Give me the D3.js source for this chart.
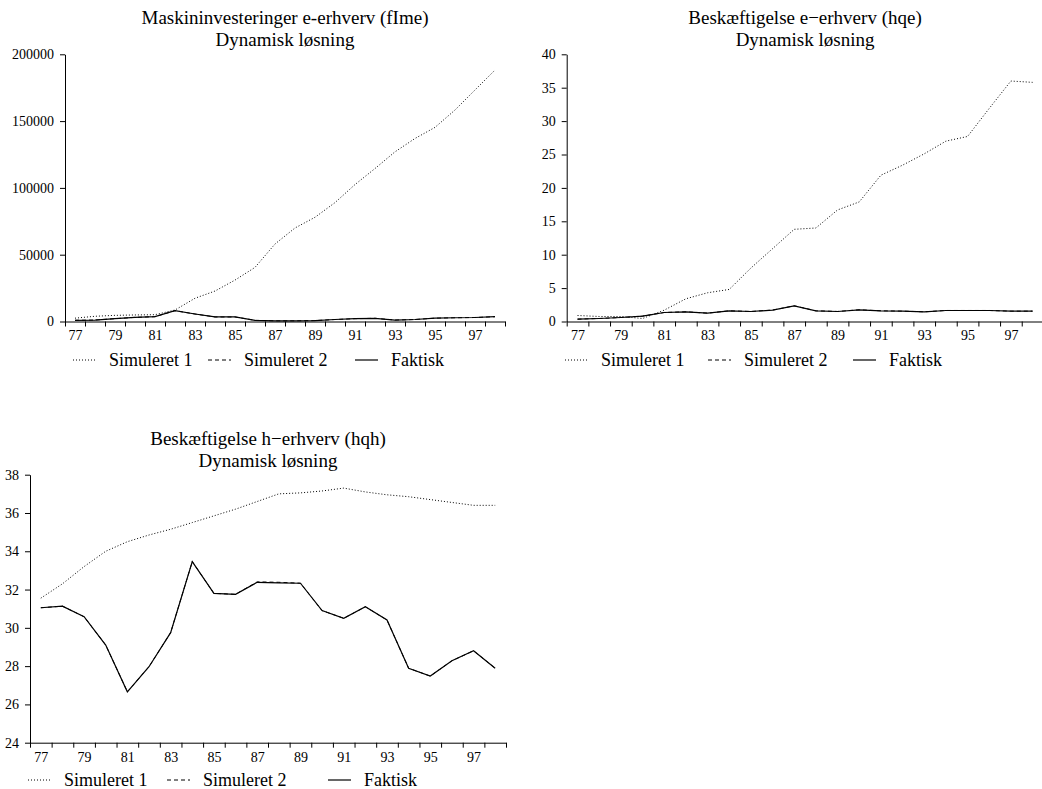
<!DOCTYPE html>
<html>
  <head>
    <meta charset="utf-8">
    <script src="https://cdn.jsdelivr.net/npm/d3@7"></script>
    <style>
      body { margin: 0; background: #fff; }
      .axis path, .axis line { stroke: #000; stroke-width: 1; }
    </style>
  </head>
  <body>
    <script>

      // years on the x axis (19xx)
      var years = d3.range(77, 99);
      var yearLabels = ["77", "79", "81", "83", "85", "87", "89", "91", "93", "95", "97"];

      // legend names
      var seriesNames = ["Simuleret 1", "Simuleret 2", "Faktisk"];

      // panel 1: Maskininvesteringer e-erhverv (fIme)
      var fimeSim1 = [2500, 3900, 4600, 4900, 5100, 8600, 17400, 22800, 31000, 40500, 58000, 70000,
                      78000, 89000, 102500, 114500, 127000, 137000, 145300, 158300, 173300, 188200];
      var fimeSim2 = [900, 1100, 2100, 3100, 3600, 8100, 5600, 3400, 3400, 900, 500, 500,
                      700, 1500, 2100, 2400, 1100, 1500, 2500, 2800, 3000, 3600];
      var fimeAct  = [900, 1100, 2100, 3100, 3600, 8100, 5600, 3400, 3400, 900, 500, 500,
                      700, 1500, 2100, 2400, 1100, 1500, 2500, 2800, 3000, 3600];
      var fimeTicks = [0, 50000, 100000, 150000, 200000];

      // panel 2: Beskæftigelse e-erhverv (hqe)
      var hqeSim1 = [0.9, 0.75, 0.75, 0.45, 1.7, 3.4, 4.3, 4.8, 8.0, 10.9, 13.8, 14.0,
                     16.7, 17.9, 21.9, 23.4, 25.1, 27.0, 27.7, 31.9, 36.0, 35.8];
      var hqeSim2 = [0.35, 0.45, 0.6, 0.8, 1.35, 1.45, 1.25, 1.6, 1.5, 1.7, 2.35, 1.6,
                     1.5, 1.75, 1.6, 1.55, 1.45, 1.65, 1.65, 1.65, 1.55, 1.55];
      var hqeAct  = [0.35, 0.45, 0.6, 0.8, 1.35, 1.45, 1.25, 1.6, 1.5, 1.7, 2.35, 1.6,
                     1.5, 1.75, 1.6, 1.55, 1.45, 1.65, 1.65, 1.65, 1.55, 1.55];
      var hqeTicks = [0, 5, 10, 15, 20, 25, 30, 35, 40];

      // panel 3: Beskæftigelse h-erhverv (hqh)
      var hqhSim1 = [31.55, 32.3, 33.2, 34.0, 34.5, 34.85, 35.15, 35.5, 35.85, 36.2, 36.6, 37.0,
                     37.05, 37.15, 37.3, 37.1, 36.95, 36.85, 36.7, 36.55, 36.4, 36.4];
      var hqhSim2 = [31.05, 31.13, 30.58, 29.1, 26.66, 27.97, 29.75, 33.46, 31.8, 31.75, 32.4, 32.38,
                     32.33, 30.9, 30.5, 31.1, 30.41, 27.89, 27.48, 28.28, 28.8, 27.89];
      var hqhAct  = [31.05, 31.13, 30.58, 29.1, 26.66, 27.97, 29.75, 33.46, 31.8, 31.75, 32.38, 32.35,
                     32.33, 30.9, 30.5, 31.1, 30.41, 27.89, 27.48, 28.28, 28.8, 27.89];
      var hqhTicks = [24, 26, 28, 30, 32, 34, 36, 38];

      var serif = "'Liberation Serif', 'Times New Roman', serif";

      // panel layout (pixels)
      var panels = [
        {title: "Maskininvesteringer e-erhverv (fIme)", x0: 65, x1: 505, yTop: 54.3, yBot: 321.5,
         yDomain: [0, 200000], ticks: fimeTicks, series: [fimeSim1, fimeSim2, fimeAct],
         titleY: 24, legendX: 73, legendY: 360, legendOff: [0, 135, 282]},
        {title: "Beskæftigelse e\u2212erhverv (hqe)", x0: 566.7, x1: 1043.4, yTop: 54.3, yBot: 321.5,
         yDomain: [0, 40], ticks: hqeTicks, series: [hqeSim1, hqeSim2, hqeAct],
         titleY: 24, legendX: 565, legendY: 360, legendOff: [0, 143, 288]},
        {title: "Beskæftigelse h\u2212erhverv (hqh)", x0: 30, x1: 506, yTop: 474.7, yBot: 742.7,
         yDomain: [24, 38], ticks: hqhTicks, series: [hqhSim1, hqhSim2, hqhAct],
         titleY: 445, legendX: 28, legendY: 780, legendOff: [0, 139, 300]}
      ];

      var dashes = ["1,2", "4,3", null];
      var widths = [1, 1, 1.2];

      var svg = d3.select("body")
        .append("svg")
        .attr("width", 1042)
        .attr("height", 789);

      panels.forEach(function(p) {

        var g = svg.append("g");

        // years sit in the middle of each one-year slot
        var x = d3.scaleLinear()
          .domain([years[0] - 0.5, years[years.length - 1] + 0.5])
          .range([p.x0, p.x1]);

        var y = d3.scaleLinear()
          .domain(p.yDomain)
          .range([p.yBot, p.yTop]);

        // titles
        g.append("text")
          .attr("x", (p.x0 + p.x1) / 2)
          .attr("y", p.titleY)
          .attr("text-anchor", "middle")
          .style("font-family", serif)
          .style("font-size", "19px")
          .text(p.title);

        g.append("text")
          .attr("x", (p.x0 + p.x1) / 2)
          .attr("y", p.titleY + 22)
          .attr("text-anchor", "middle")
          .style("font-family", serif)
          .style("font-size", "19px")
          .text("Dynamisk løsning");

        // x axis: tick marks on slot borders
        g.append("g")
          .attr("class", "axis")
          .attr("transform", "translate(0," + p.yBot + ")")
          .call(d3.axisBottom(x)
            .tickValues(d3.range(years[0] - 0.5, years[years.length - 1] + 1, 1))
            .tickSize(5)
            .tickSizeOuter(0)
            .tickFormat(""));

        // x labels on every other year
        g.append("g")
          .attr("class", "axis xlab")
          .attr("transform", "translate(0," + p.yBot + ")")
          .call(d3.axisBottom(x)
            .tickValues(yearLabels.map(Number))
            .tickSize(0)
            .tickPadding(9)
            .tickFormat(function(d) { return d; }))
          .call(function(a) { a.select(".domain").remove(); })
          .selectAll("text")
          .style("font-family", serif)
          .style("font-size", "14px");

        // y axis
        g.append("g")
          .attr("class", "axis")
          .attr("transform", "translate(" + p.x0 + ",0)")
          .call(d3.axisLeft(y)
            .tickValues(p.ticks)
            .tickSize(5)
            .tickSizeOuter(0)
            .tickPadding(6)
            .tickFormat(d3.format("d")))
          .selectAll("text")
          .style("font-family", serif)
          .style("font-size", "14px");

        // lines
        var line = d3.line()
          .x(function(d, i) { return x(years[i]); })
          .y(function(d) { return y(d); });

        p.series.forEach(function(s, k) {
          g.append("path")
            .datum(s)
            .attr("fill", "none")
            .attr("stroke", "#000")
            .attr("stroke-width", widths[k])
            .attr("stroke-dasharray", dashes[k])
            .attr("d", line);
        });

        // legend
        seriesNames.forEach(function(name, k) {
          var lx = p.legendX + p.legendOff[k];
          g.append("line")
            .attr("x1", lx)
            .attr("x2", lx + 23)
            .attr("y1", p.legendY)
            .attr("y2", p.legendY)
            .attr("stroke", "#000")
            .attr("stroke-width", widths[k])
            .attr("stroke-dasharray", dashes[k]);
          g.append("text")
            .attr("x", lx + 36)
            .attr("y", p.legendY + 6)
            .style("font-family", serif)
            .style("font-size", "18px")
            .text(name);
        });
      });

    </script>
  </body>
</html>
